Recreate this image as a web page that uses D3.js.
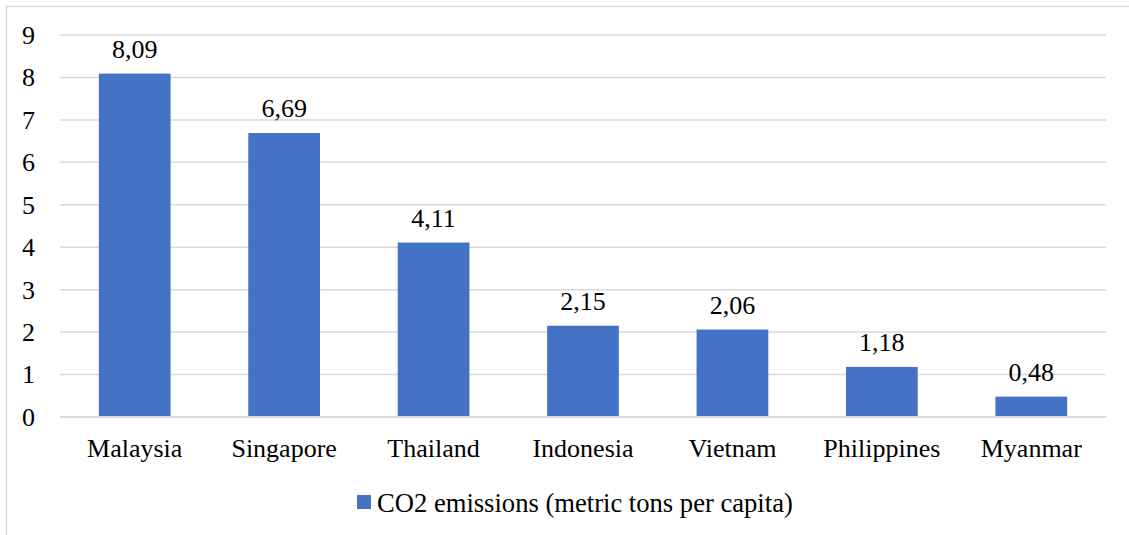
<!DOCTYPE html>
<html><head><meta charset="utf-8">
<script src="https://cdnjs.cloudflare.com/ajax/libs/d3/7.8.5/d3.min.js"></script>
<style>body{margin:0;background:#fff;}svg{display:block;} text{font-family:"Liberation Serif","Times New Roman",Times,serif;}</style>
</head><body>
<script>
const categories = ["Malaysia","Singapore","Thailand","Indonesia","Vietnam","Philippines","Myanmar"];
const values = [8.09, 6.69, 4.11, 2.15, 2.06, 1.18, 0.48];
const yTicks = [0,1,2,3,4,5,6,7,8,9];
const seriesName = "CO2 emissions (metric tons per capita)";

(function(){
const W = 1129, H = 535;
const svg = d3.select("body").append("svg").attr("width", W).attr("height", H);
const fs = 26;

svg.append("rect").attr("x", 6.5).attr("y", 6.5).attr("width", W + 10).attr("height", H + 10)
  .attr("fill", "none").attr("stroke", "#d9d9d9").attr("stroke-width", 1.5);

const pLeft = 60, pRight = 1106, pTop = 35, pBottom = 417;
const x = d3.scaleBand().domain(categories).range([pLeft, pRight]).paddingInner(0.52).paddingOuter(0.26);
const y = d3.scaleLinear().domain([0, 9]).range([pBottom, pTop]);

svg.append("g").selectAll("line").data(yTicks.filter(d => d > 0)).join("line")
  .attr("x1", pLeft).attr("x2", pRight).attr("y1", d => y(d)).attr("y2", d => y(d))
  .attr("stroke", "#d9d9d9").attr("stroke-width", 1.5);

svg.append("g").selectAll("rect").data(values).join("rect")
  .attr("x", (d, i) => x(categories[i])).attr("width", x.bandwidth())
  .attr("y", d => y(d)).attr("height", d => y(0) - y(d)).attr("fill", "#4472C4");

svg.append("line").attr("x1", pLeft).attr("x2", pRight).attr("y1", y(0)).attr("y2", y(0))
  .attr("stroke", "#d9d9d9").attr("stroke-width", 2);

const fmt = v => d3.format(".2f")(v).replace(".", ",");
svg.append("g").selectAll("text").data(values).join("text")
  .attr("x", (d, i) => x(categories[i]) + x.bandwidth() / 2).attr("y", d => y(d) - 16)
  .attr("text-anchor", "middle").attr("font-size", fs).attr("fill", "#000")
  .text(fmt);

svg.append("g").selectAll("text").data(yTicks).join("text")
  .attr("x", 35).attr("y", d => y(d)).attr("dy", "0.34em")
  .attr("text-anchor", "end").attr("font-size", fs).attr("fill", "#000")
  .text(d => d);

svg.append("g").selectAll("text").data(categories).join("text")
  .attr("x", d => x(d) + x.bandwidth() / 2).attr("y", 457)
  .attr("text-anchor", "middle").attr("font-size", fs).attr("fill", "#000")
  .text(d => d);

svg.append("rect").attr("x", 357).attr("y", 495).attr("width", 14).attr("height", 14).attr("fill", "#4472C4");
svg.append("text").attr("x", 377).attr("y", 512).attr("font-size", 26.6).attr("fill", "#000")
  .text(seriesName);
})();
</script>
</body></html>
